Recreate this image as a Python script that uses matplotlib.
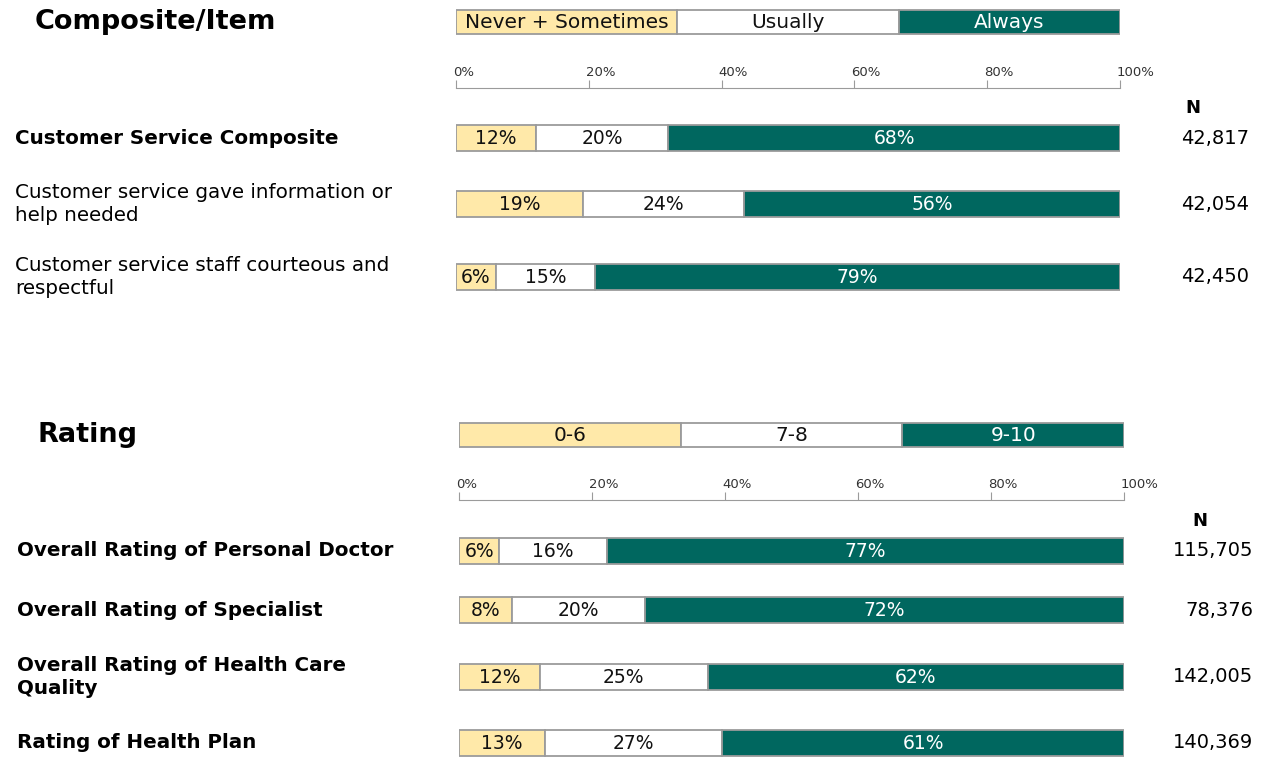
import numpy as np
import matplotlib.pyplot as plt
from matplotlib.transforms import ScaledTranslation

# ---- data ---------------------------------------------------------------
cs_items = ["Customer Service Composite",
            "Customer service gave information or\nhelp needed",
            "Customer service staff courteous and\nrespectful"]
cs_bold = [True, False, False]
cs_low = [12, 19, 6]
cs_mid = [20, 24, 15]
cs_high = [68, 56, 79]
cs_n = [42817, 42054, 42450]
cs_legend = ["Never + Sometimes", "Usually", "Always"]

rt_items = ["Overall Rating of Personal Doctor",
            "Overall Rating of Specialist",
            "Overall Rating of Health Care\nQuality",
            "Rating of Health Plan"]
rt_bold = [True, True, True, True]
rt_low = [6, 8, 12, 13]
rt_mid = [16, 20, 25, 27]
rt_high = [77, 72, 62, 61]
rt_n = [115705, 78376, 142005, 140369]
rt_legend = ["0-6", "7-8", "9-10"]

ticks = [0, 20, 40, 60, 80, 100]

# ---- style / layout -----------------------------------------------------
W, H = 1261, 760
YELLOW = "#FFE9A9"
GREEN = "#00675F"
EDGE = "#9b9b9b"
COLORS = [YELLOW, "white", GREEN]
TXT = ["#111111", "#111111", "white"]
FONT = "DejaVu Sans"

fig = plt.figure(figsize=(W / 100, H / 100), dpi=100)


def px_axes(x0, x1, y0, y1):
    return fig.add_axes([x0 / W, 1 - y1 / H, (x1 - x0) / W, (y1 - y0) / H])


def ftext(x, y, s, **kw):
    kw.setdefault("family", FONT)
    return fig.text(x / W, 1 - y / H, s, **kw)


def section(title, title_xy, legend, legend_y, x0, x1, y0, y1, line_y,
            items, bold, low, mid, high, n, row_y, label_x, n_xy, n_right):
    ftext(*title_xy, title, fontsize=19.5, fontweight="bold", va="center")

    ax = px_axes(x0, x1, y0, y1)
    ax.set_xlim(0, 100)
    ax.set_ylim(y1, y0)
    ax.axis("off")

    # legend strip
    left = 0
    for lab, c, tc in zip(legend, COLORS, TXT):
        ax.barh(legend_y, 100 / 3, left=left, height=24, color=c,
                edgecolor=EDGE, linewidth=1.3)
        ax.text(left + 100 / 6, legend_y, lab, ha="center", va="center",
                fontsize=14.5, color=tc, family=FONT)
        left += 100 / 3

    # percent scale
    sx = px_axes(x0, x1, line_y - 8, line_y)
    sx.set_xlim(0, 100)
    sx.set_yticks([])
    for s in ["left", "right", "top"]:
        sx.spines[s].set_visible(False)
    sx.spines["bottom"].set_color(EDGE)
    sx.set_facecolor("none")
    sx.set_xticks(ticks)
    sx.set_xticklabels([f"{t}%" for t in ticks])
    sx.tick_params(axis="x", direction="in", length=6, color=EDGE,
                   bottom=True, top=False, labelbottom=False, labeltop=True,
                   labelsize=9.5, labelcolor="#333333", pad=1)
    off = ScaledTranslation(-3 / 100, 0, fig.dpi_scale_trans)
    for lbl in sx.get_xticklabels():
        lbl.set_ha("left")
        lbl.set_transform(lbl.get_transform() + off)

    # bars
    vals = np.array([low, mid, high], dtype=float)
    widths = vals / vals.sum(axis=0) * 100
    lefts = np.vstack([np.zeros(len(items)), np.cumsum(widths, axis=0)[:-1]])
    for k in range(3):
        ax.barh(row_y, widths[k], left=lefts[k], height=26, color=COLORS[k],
                edgecolor=EDGE, linewidth=1.3)
        for y, l, w, v in zip(row_y, lefts[k], widths[k], vals[k]):
            ax.text(l + w / 2, y, f"{v:.0f}%", ha="center", va="center",
                    fontsize=13.5, color=TXT[k], family=FONT)

    # row labels and N
    ftext(*n_xy, "N", fontsize=13, fontweight="bold", ha="center", va="center")
    for y, it, b, nv in zip(row_y, items, bold, n):
        ftext(label_x, y, it, fontsize=14.3,
              fontweight="bold" if b else "normal", va="center",
              linespacing=1.3)
        ftext(n_right, y, f"{nv:,}", fontsize=14, ha="right", va="center")


section("Composite/Item", (35, 22), cs_legend, 22, 456, 1120, 0, 310, 88,
        cs_items, cs_bold, cs_low, cs_mid, cs_high, cs_n,
        [138, 204, 277], 15, (1193, 108), 1249)

section("Rating", (37, 435), rt_legend, 435, 459, 1124, 410, 760, 500,
        rt_items, rt_bold, rt_low, rt_mid, rt_high, rt_n,
        [551, 610, 677, 743], 17, (1200, 521), 1253)

fig.savefig("out.png", dpi=100, facecolor="white")
